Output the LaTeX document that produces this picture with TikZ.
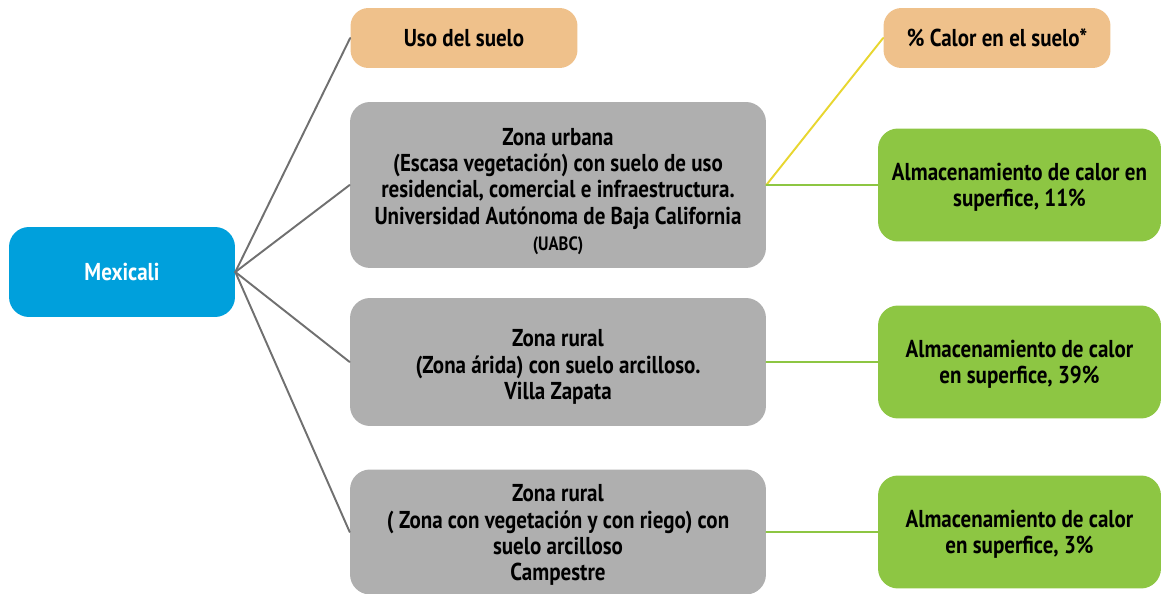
\documentclass[tikz,border=0pt]{standalone}
\usepackage{fontspec}
\setmainfont{PT Sans}[FakeStretch=0.86]
\usepackage{tikz}
\usetikzlibrary{positioning}
\definecolor{cityblue}{RGB}{0,160,220}
\definecolor{soilorange}{RGB}{239,193,139}
\definecolor{zonegrey}{RGB}{175,175,175}
\definecolor{heatgreen}{RGB}{141,198,67}
\definecolor{linkgrey}{RGB}{112,112,112}
\definecolor{linkyellow}{RGB}{232,214,48}
\newcommand{\zonetop}[1]{\rule{0pt}{#1}}

\begin{document}
\begin{tikzpicture}[x=0.02cm,y=-0.02cm,line cap=round,
 base/.style={rounded corners=0.4cm,align=center,inner sep=0pt,
  font=\bfseries\fontsize{13.9}{15}\selectfont},
 citybox/.style={base,fill=cityblue,text=white,minimum width=4.52cm,minimum height=1.8cm},
 headbox/.style={base,fill=soilorange,rounded corners=0.36cm,minimum width=4.54cm,minimum height=1.2cm},
 zonebox/.style={base,fill=zonegrey,minimum width=8.32cm},
 heatbox/.style={base,fill=heatgreen,minimum width=5.66cm,minimum height=2.26cm},
 glink/.style={linkgrey,line width=1.1pt},
 ylink/.style={linkyellow,line width=1.1pt},
 hlink/.style={heatgreen,line width=1.1pt}]
 \useasboundingbox (0,0) rectangle (1161,594);
 % left column
 \node[citybox] (mexicali) at (122,272) {Mexicali};
 % land use column
 \node[headbox] (uso) at (464,38) {Uso del suelo};
 \node[zonebox,minimum height=3.32cm] (urbana) at (558,185)
  {\zonetop{17pt}Zona urbana\\(Escasa vegetación) con suelo de uso\\residencial, comercial e infraestructura.\\Universidad Autónoma de Baja California\\{\fontsize{11}{13}\selectfont(UABC)}};
 \node[zonebox,minimum height=2.56cm] (rural) at (558,362)
  {\zonetop{15.7pt}Zona rural\\(Zona árida) con suelo arcilloso.\\Villa Zapata};
 \node[zonebox,minimum height=2.5cm] (riego) at (558,532)
  {\zonetop{13.4pt}Zona rural\\( Zona con vegetación y con riego) con\\suelo arcilloso\\Campestre};
 % heat column
 \node[headbox] (calor) at (997,38) {\% Calor en el suelo*};
 \node[heatbox] (alm11) at (1019.5,185) {\zonetop{12.5pt}Almacenamiento de calor en\\superfice, 11\%};
 \node[heatbox] (alm39) at (1019.5,362) {\zonetop{12.5pt}Almacenamiento de calor\\en superfice, 39\%};
 \node[heatbox] (alm3) at (1019.5,532) {\zonetop{12.5pt}Almacenamiento de calor\\en superfice, 3\%};
 % links
 \foreach \z in {uso,urbana,rural,riego}
  \draw[glink] (mexicali.east) -- (\z.west);
 \draw[ylink] (urbana.east) -- (calor.west);
 \draw[hlink] (urbana.east) -- (alm11.west);
 \draw[hlink] (rural.east) -- (alm39.west);
 \draw[hlink] (riego.east) -- (alm3.west);
\end{tikzpicture}
\end{document}
